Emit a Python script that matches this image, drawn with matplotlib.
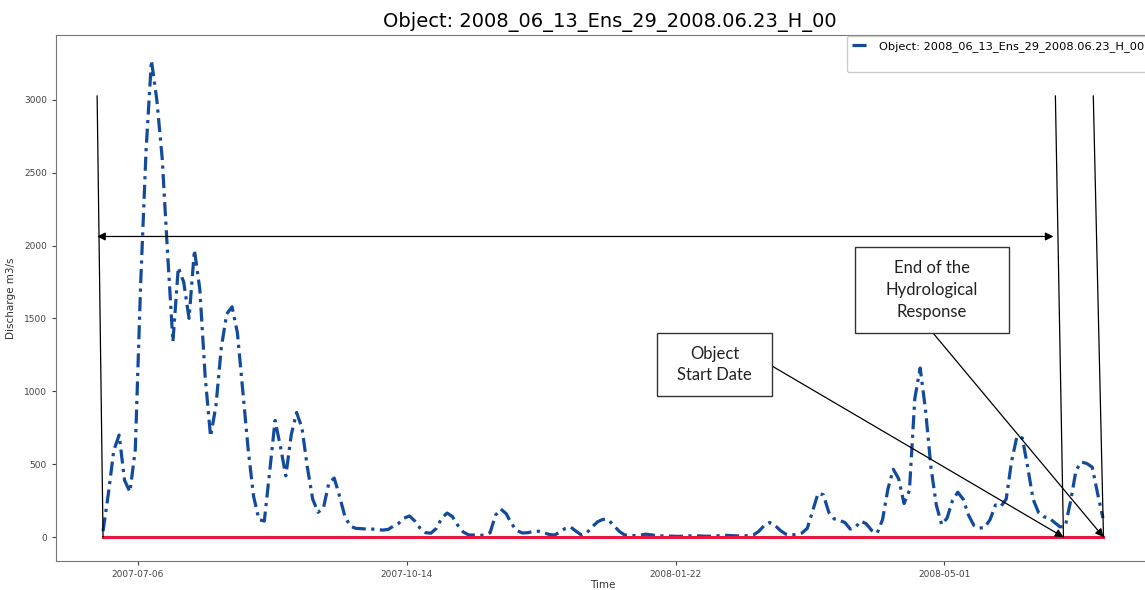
import matplotlib
matplotlib.use("Agg")
import matplotlib.pyplot as plt
import matplotlib.dates as mdates
from matplotlib.patches import Rectangle
import pandas as pd

title = "Object: 2008_06_13_Ens_29_2008.06.23_H_00"
start_date = "2007-06-23"
step = "2D"

# discharge (m3/s), one value every 2 days from start_date
discharge = [
    40, 300, 595, 700, 390, 310, 600, 1740, 2650, 3270, 3000,
    2600, 1950, 1340, 1850, 1750, 1500, 1970, 1700, 1100, 690,
    900, 1300, 1530, 1580, 1400, 1000, 600, 280, 120, 110,
    450, 800, 620, 420, 700, 855, 750, 480, 260, 170,
    200, 370, 405, 280, 140, 75, 60, 58, 55, 55,
    52, 48, 52, 75, 95, 130, 145, 110, 60, 30,
    27, 60, 130, 165, 140, 80, 35, 15, 14, 12,
    14, 30, 150, 192, 160, 90, 45, 28, 30, 38,
    40, 30, 18, 14, 35, 60, 68, 40, 14, 30,
    70, 105, 122, 118, 80, 40, 15, 12, 10, 14,
    20, 15, 10, 8, 8, 6, 5, 6, 8, 10,
    8, 6, 6, 8, 10, 12, 10, 8, 8, 10,
    15, 40, 80, 100, 80, 45, 20, 14, 18, 28,
    60, 180, 300, 290, 170, 125, 115, 100, 55, 70,
    110, 90, 45, 27, 120, 330, 465, 400, 230, 320,
    950, 1160, 870, 480, 220, 85, 130, 250, 308, 260,
    150, 80, 62, 65, 120, 220, 210, 260, 520, 690,
    680, 480, 260, 170, 140, 130, 100, 70, 75, 250,
    460, 515, 505, 480, 300, 130,
]
threshold = [0] * len(discharge)

dates = pd.date_range(start_date, periods=len(discharge), freq=step)
t0 = pd.Timestamp(start_date)


def day(d):
    return mdates.date2num(t0 + pd.Timedelta(days=d))


W, H = 1145, 590
fig = plt.figure(figsize=(W / 100, H / 100), dpi=100)
ax = fig.add_axes([56 / W, 29 / H, 1094 / W, 526 / H])

blue = "#124a9c"
red = "#e8173f"

l1, = ax.plot(dates, discharge, color=blue, lw=2.3, ls=(0, (4.4, 1.7, 1, 1.7)),
              label=title)
ax.plot(dates, threshold, color=red, lw=2.2)

ax.set_xlim(day(-17.5), day(389.5))
ax.set_ylim(-164, 3444)
ticks = [pd.Timestamp("2007-07-06") + pd.Timedelta(days=100 * i) for i in range(4)]
ax.set_xticks(ticks)
ax.xaxis.set_major_formatter(mdates.DateFormatter("%Y-%m-%d"))
ax.set_yticks(range(0, 3001, 500))
ax.tick_params(labelsize=6.5, colors="#444444", length=3)
for s in ax.spines.values():
    s.set_color("#777777")

ax.set_title(title, fontsize=14, pad=6, x=0.506)
ax.set_xlabel("Time", fontsize=7.5, color="#333333", labelpad=0.5)
ax.set_ylabel("Discharge m3/s", fontsize=7.5, color="#333333", labelpad=6)

blank, = ax.plot([], [], color="none")
ax.legend([l1, blank], [title, ""], loc="upper right", fontsize=8.2,
          borderaxespad=0.1, handlelength=1.6, framealpha=1)

# annotation lines / arrows
k = dict(color="black", lw=0.9, shrinkA=0, shrinkB=0)
for x0, x1 in [(-2.2, 0), (354.3, 357.3), (368.4, 372.2)]:
    ax.annotate("", xy=(day(x1), 0), xytext=(day(x0), 3027),
                arrowprops=dict(arrowstyle="-", **k), annotation_clip=False)
ax.annotate("", xy=(day(-2.2), 2062), xytext=(day(353.6), 2062),
            arrowprops=dict(arrowstyle="<|-|>", mutation_scale=12, **k),
            annotation_clip=False)


def fx(px):
    return px / W


def fy(py):
    return 1 - py / H


ax.annotate("", xy=(day(357.3), 0), xytext=(fx(772), fy(366)),
            textcoords="figure fraction",
            arrowprops=dict(arrowstyle="-|>", mutation_scale=12, **k))
ax.annotate("", xy=(day(372.2), 0), xytext=(fx(933), fy(333)),
            textcoords="figure fraction",
            arrowprops=dict(arrowstyle="-|>", mutation_scale=12, **k))

boxes = [
    ((657, 333, 772, 396), "Object\nStart Date"),
    ((855, 247, 1009, 333), "End of the\nHydrological\nResponse"),
]
for (x0, y0, x1, y1), txt in boxes:
    fig.add_artist(Rectangle((fx(x0), fy(y1)), (x1 - x0) / W, (y1 - y0) / H,
                             transform=fig.transFigure, facecolor="white",
                             edgecolor="#333333", lw=1))
    fig.text(fx((x0 + x1) / 2), fy((y0 + y1) / 2), txt, ha="center", va="center",
             fontsize=12, family="Lato", linespacing=1.45, color="#222222")

fig.savefig("out.png", dpi=100)
